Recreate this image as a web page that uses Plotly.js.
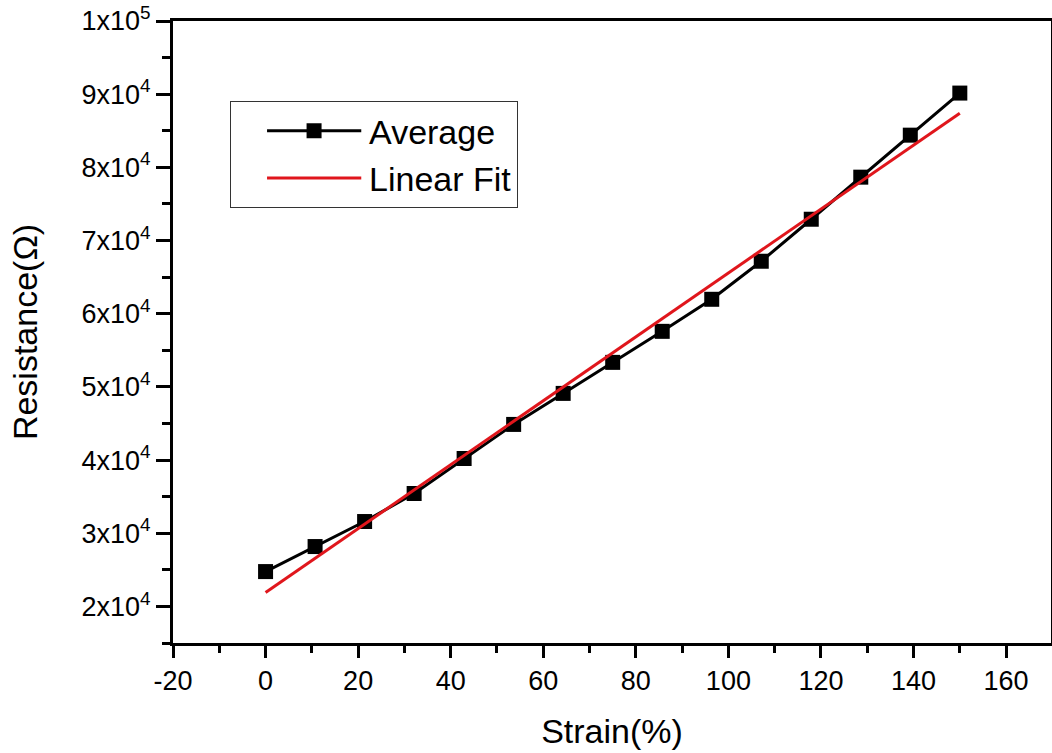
<!DOCTYPE html>
<html>
<head>
<meta charset="utf-8">
<script src="https://cdn.plot.ly/plotly-3.0.1.min.js"></script>
<style>
html,body{margin:0;padding:0;background:#fff;}
#chart{width:1052px;height:753px;}
#chart .legend .legendlines path{transform:translate(32.3px,0px) scaleX(0.736);}
#chart .legend .legendpoints path.scatterpts{transform:translate(83px,0px);}
</style>
</head>
<body>
<div id="chart"></div>
<script>
// Data
const strain = [0, 10.7, 21.4, 32.1, 42.9, 53.6, 64.3, 75, 85.7, 96.4, 107.1, 117.9, 128.6, 139.3, 150];
const resistance = [24760, 28180, 31600, 35430, 40210, 44870, 49110, 53350, 57590, 61970, 67170, 72910, 78660, 84400, 90150];
const fitStrain = [0, 150];
const fitResistance = [21900, 87400];
const xTickVals = [-20, 0, 20, 40, 60, 80, 100, 120, 140, 160];
const xTickText = ['-20', '0', '20', '40', '60', '80', '100', '120', '140', '160'];
const yTickVals = [20000, 30000, 40000, 50000, 60000, 70000, 80000, 90000, 100000];
const yTickText = ['2x10<sup>4</sup>', '3x10<sup>4</sup>', '4x10<sup>4</sup>', '5x10<sup>4</sup>', '6x10<sup>4</sup>', '7x10<sup>4</sup>', '8x10<sup>4</sup>', '9x10<sup>4</sup>', '1x10<sup>5</sup>'];

const font = '"Liberation Sans", Arial, sans-serif';

const traces = [
  {
    x: strain, y: resistance, name: 'Average', type: 'scatter', mode: 'lines+markers',
    line: {color: '#000000', width: 3},
    marker: {symbol: 'square', size: 15, color: '#000000'}
  },
  {
    x: fitStrain, y: fitResistance, name: 'Linear Fit', type: 'scatter', mode: 'lines',
    line: {color: '#e0161c', width: 3}
  }
];

const layout = {
  width: 1052, height: 753,
  margin: {l: 173, r: 1, t: 21, b: 110},
  paper_bgcolor: '#ffffff', plot_bgcolor: '#ffffff',
  font: {family: font, color: '#000000'},
  showlegend: true,
  legend: {
    x: 0.065, y: 0.871, xanchor: 'left', yanchor: 'top',
    bordercolor: '#333333', borderwidth: 1, bgcolor: '#ffffff',
    font: {family: font, size: 34, color: '#000000'},
    tracegroupgap: 0, itemwidth: 128
  },
  xaxis: {
    range: [-20, 169.7], tickmode: 'array', tickvals: xTickVals, ticktext: xTickText,
    ticks: 'outside', ticklen: 12, tickwidth: 3, tickcolor: '#000',
    showline: true, linecolor: '#000', linewidth: 3, mirror: true,
    showgrid: false, zeroline: false,
    tickfont: {family: font, size: 27, color: '#000'},
    minor: {tickmode: 'linear', tick0: -20, dtick: 10, ticks: 'outside', ticklen: 7, tickwidth: 3, tickcolor: '#000', showgrid: false},
    title: {text: 'Strain(%)', font: {family: font, size: 34, color: '#000'}, standoff: 24}
  },
  yaxis: {
    range: [15000, 100000], tickmode: 'array', tickvals: yTickVals, ticktext: yTickText,
    ticks: 'outside', ticklen: 14, tickwidth: 3, tickcolor: '#000',
    showline: true, linecolor: '#000', linewidth: 3, mirror: true,
    showgrid: false, zeroline: false,
    tickfont: {family: font, size: 27, color: '#000'},
    minor: {tickmode: 'linear', tick0: 0, dtick: 5000, ticks: 'outside', ticklen: 8, tickwidth: 3, tickcolor: '#000', showgrid: false},
    title: {text: 'Resistance(Ω)', font: {family: font, size: 34, color: '#000'}, standoff: 34}
  }
};

Plotly.newPlot('chart', traces, layout, {displayModeBar: false, staticPlot: true});
</script>
</body>
</html>
